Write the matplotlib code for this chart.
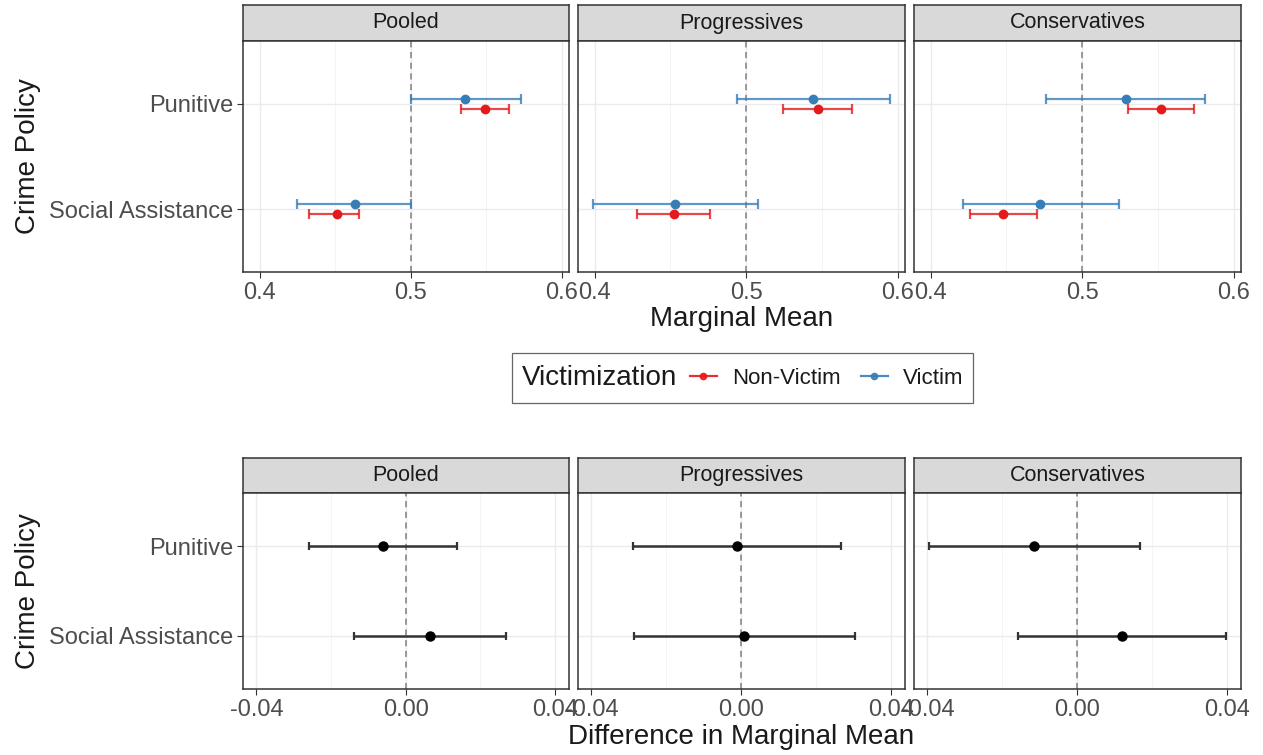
import matplotlib.pyplot as plt
from matplotlib.lines import Line2D
from matplotlib.patches import Rectangle

plt.rcParams['font.family'] = ['Liberation Sans', 'DejaVu Sans']

groups = ['Pooled', 'Progressives', 'Conservatives']
policies = ['Punitive', 'Social Assistance']

# marginal means: [Punitive, Social Assistance] for each group
victim_est = [[0.536, 0.463], [0.544, 0.453], [0.529, 0.472]]
victim_lo = [[0.500, 0.425], [0.494, 0.399], [0.476, 0.421]]
victim_hi = [[0.573, 0.500], [0.595, 0.508], [0.581, 0.524]]

nonvictim_est = [[0.549, 0.451], [0.547, 0.452], [0.552, 0.448]]
nonvictim_lo = [[0.533, 0.433], [0.524, 0.428], [0.530, 0.426]]
nonvictim_hi = [[0.565, 0.466], [0.570, 0.476], [0.574, 0.470]]

# differences in marginal means
diff_est = [[-0.0062, 0.0065], [-0.0011, 0.0009], [-0.0116, 0.0120]]
diff_lo = [[-0.0260, -0.0138], [-0.0288, -0.0286], [-0.0396, -0.0159]]
diff_hi = [[0.0137, 0.0268], [0.0268, 0.0305], [0.0167, 0.0398]]

mm_ticks = [0.4, 0.5, 0.6]
mm_labels = ['0.4', '0.5', '0.6']
diff_ticks = [-0.04, 0.0, 0.04]
diff_labels = ['-0.04', '0.00', '0.04']

RED = '#E41A1C'
BLUE = '#377EB8'
W, H = 1263, 755

fig = plt.figure(figsize=(W / 100, H / 100), dpi=100)


def box(x0, x1, y0, y1):
    # pixel box (top-left origin) -> figure fraction
    return [x0 / W, 1 - y1 / H, (x1 - x0) / W, (y1 - y0) / H]


def panel(x0, x1, top, strip_bot, bottom, title):
    s = fig.add_axes(box(x0, x1, top, strip_bot))
    s.set_facecolor('#D9D9D9')
    s.set_xticks([])
    s.set_yticks([])
    for sp in s.spines.values():
        sp.set_color('#333333')
        sp.set_linewidth(1.1)
    s.text(0.5, 0.5, title, ha='center', va='center', fontsize=15.5,
           color='#1A1A1A', transform=s.transAxes)
    ax = fig.add_axes(box(x0, x1, strip_bot, bottom))
    for sp in ax.spines.values():
        sp.set_color('#333333')
        sp.set_linewidth(1.1)
    ax.set_ylim(2.6, 0.4)
    ax.set_yticks([1, 2])
    ax.grid(True, which='major', color='#EBEBEB', linewidth=1.0)
    ax.grid(True, which='minor', axis='x', color='#F3F3F3', linewidth=0.6)
    ax.set_axisbelow(True)
    ax.tick_params(axis='both', which='major', length=4, color='#333333',
                   labelsize=17, labelcolor='#4D4D4D', pad=3)
    ax.tick_params(axis='both', which='minor', length=0)
    return ax


xs = [(243, 569), (578, 905), (914, 1241)]
ypos = [1, 2]

top_axes = []
for g, (x0, x1) in enumerate(xs):
    ax = panel(x0, x1, 5, 41, 272, groups[g])
    ax.set_xlim(0.389, 0.6047)
    ax.set_xticks(mm_ticks)
    ax.set_xticklabels(mm_labels)
    ax.set_xticks([0.45, 0.55], minor=True)
    ax.axvline(0.5, color='#7F7F7F', linestyle=(0, (4, 3)), linewidth=1.1, zorder=1)
    for est, lo, hi, col, off in [(victim_est, victim_lo, victim_hi, BLUE, -0.05),
                                  (nonvictim_est, nonvictim_lo, nonvictim_hi, RED, 0.05)]:
        for i, y in enumerate(ypos):
            ax.errorbar(est[g][i], y + off,
                        xerr=[[est[g][i] - lo[g][i]], [hi[g][i] - est[g][i]]],
                        fmt='none', ecolor=col, elinewidth=1.6,
                        capsize=3.5, capthick=1.6, alpha=0.8, zorder=3)
            ax.plot(est[g][i], y + off, 'o', color=col, markersize=6, zorder=4)
    if g == 0:
        ax.set_yticklabels(policies)
        ax.set_ylabel('Crime Policy', fontsize=20, color='#1A1A1A', labelpad=6)
    else:
        ax.set_yticklabels([])
        ax.tick_params(axis='y', length=0)
    top_axes.append(ax)

top_axes[1].set_xlabel('Marginal Mean', fontsize=20, color='#1A1A1A', labelpad=2)

for g, (x0, x1) in enumerate(xs):
    ax = panel(x0, x1, 458, 493, 689, groups[g])
    ax.set_xlim(-0.0436, 0.0438)
    ax.set_xticks(diff_ticks)
    ax.set_xticklabels(diff_labels)
    ax.set_xticks([-0.02, 0.02], minor=True)
    ax.axvline(0.0, color='#7F7F7F', linestyle=(0, (4, 3)), linewidth=1.1, zorder=1)
    for i, y in enumerate(ypos):
        ax.errorbar(diff_est[g][i], y,
                    xerr=[[diff_est[g][i] - diff_lo[g][i]], [diff_hi[g][i] - diff_est[g][i]]],
                    fmt='o', color='black', ecolor='#333333', markersize=6.5,
                    elinewidth=1.8, capsize=3, capthick=1.6, zorder=3)
    if g == 0:
        ax.set_yticklabels(policies)
        ax.set_ylabel('Crime Policy', fontsize=20, color='#1A1A1A', labelpad=6)
    else:
        ax.set_yticklabels([])
        ax.tick_params(axis='y', length=0)
    if g == 1:
        ax.set_xlabel('Difference in Marginal Mean', fontsize=20, color='#1A1A1A', labelpad=2)

# legend: framed box with title on the left
fig.patches.append(Rectangle((512 / W, 1 - 403 / H), (973 - 512) / W, 50 / H,
                             transform=fig.transFigure, facecolor='white',
                             edgecolor='#666666', linewidth=0.9))
fig.text(522 / W, 1 - 378 / H, 'Victimization', fontsize=20, color='#1A1A1A',
         ha='left', va='center')
handles = [Line2D([], [], color=RED, marker='o', markersize=4.5, linewidth=1.6, alpha=0.9),
           Line2D([], [], color=BLUE, marker='o', markersize=4.5, linewidth=1.6, alpha=0.9)]
leg = fig.legend(handles, ['Non-Victim', 'Victim'],
                 loc='center left', bbox_to_anchor=(690 / W, 1 - 378 / H), ncol=2,
                 fontsize=16, frameon=False, borderpad=0, borderaxespad=0,
                 handlelength=1.2, handletextpad=0.7, columnspacing=0.9)
for t in leg.get_texts():
    t.set_color('#1A1A1A')

fig.savefig('out.png', dpi=100)
